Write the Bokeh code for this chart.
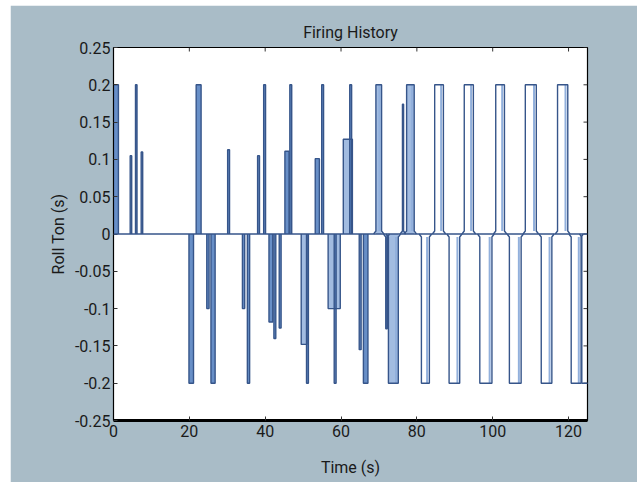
import math
from bokeh.plotting import figure
from bokeh.models import Range1d, LinearAxis, FixedTicker, Span
from bokeh.embed import file_html
from bokeh.resources import INLINE

# ---- data ----
pulse_start = [0.0, 4.4, 5.8, 7.3, 19.9, 21.8, 24.6, 25.7, 30.1, 34.0, 35.3, 38.0, 39.6,
               41.0, 42.3, 43.7, 45.2, 46.5, 49.5, 50.9, 53.2, 54.9, 56.6, 58.2, 60.6,
               62.3, 64.8, 65.9, 69.2, 71.8, 72.5, 76.2, 77.3, 81.2, 84.7, 88.5, 92.5,
               96.6, 100.8, 104.4, 108.6, 112.8, 117.1, 120.7, 123.5]
pulse_end = [1.3, 4.8, 6.2, 7.7, 21.1, 23.1, 25.2, 26.8, 30.6, 34.6, 35.9, 38.5, 40.1,
             42.0, 42.8, 44.2, 46.3, 47.0, 51.0, 51.4, 54.3, 55.4, 59.8, 58.7, 63.0,
             62.8, 65.3, 67.1, 70.7, 72.2, 75.1, 76.5, 79.3, 83.3, 87.0, 91.3, 94.9,
             99.8, 103.1, 107.5, 111.5, 115.6, 119.8, 123.3, 126.0]
pulse_amp = [0.2, 0.105, 0.2, 0.11, -0.2, 0.2, -0.1, -0.2, 0.113, -0.1, -0.2, 0.105, 0.2,
             -0.118, -0.14, -0.126, 0.111, 0.2, -0.148, -0.2, 0.101, 0.2, -0.1, -0.2, 0.127,
             0.2, -0.155, -0.2, 0.2, -0.127, -0.2, 0.174, 0.2, -0.2, 0.2, -0.2, 0.2,
             -0.2, 0.2, -0.2, 0.2, -0.2, 0.2, -0.2, -0.2]

x_ticks = [0, 20, 40, 60, 80, 100, 120]
y_ticks = [-0.25, -0.2, -0.15, -0.1, -0.05, 0, 0.05, 0.1, 0.15, 0.2, 0.25]
y_tick_labels = ["-0.25", "-0.2", "-0.15", "-0.1", "-0.05", "0", "0.05", "0.1", "0.15", "0.2", "0.25"]

title_text = "Firing History"
x_label = "Time (s)"
y_label = "Roll Ton (s)"

# ---- styling ----
FONT = "Roboto"
BG = "#a9bcc7"
DARK = "#36558a"
MID = "#4d7bbd"
LIGHT = "#92b0dc"
X0, X1, Y0, Y1 = 0, 125, -0.25, 0.25

p = figure(width=627, height=477, output_backend="svg", toolbar_location=None,
           x_range=Range1d(X0, X1), y_range=Range1d(Y0, Y1),
           x_axis_location=None, y_axis_location=None,
           min_border_left=103, min_border_right=50, min_border_top=42, min_border_bottom=62)
p.margin = (5, 0, 0, 10)
p.background_fill_color = "white"
p.border_fill_color = BG
p.outline_line_color = "black"
p.outline_line_width = 1.2
p.xgrid.visible = False
p.ygrid.visible = False

p.title.text = title_text
p.title.align = "center"
p.title.text_font = FONT
p.title.text_font_size = "16px"
p.title.text_font_style = "normal"
p.title.text_color = "#1a1a1a"
p.title.standoff = 11

def style_axis(ax):
    ax.major_tick_in = 4
    ax.major_tick_out = 0
    ax.minor_tick_line_color = None
    ax.major_tick_line_color = "#333333"
    ax.axis_line_color = "black"
    ax.major_label_text_font = FONT
    ax.major_label_text_font_size = "16px"
    ax.major_label_text_color = "#1a1a1a"
    ax.axis_label_text_font = FONT
    ax.axis_label_text_font_size = "16px"
    ax.axis_label_text_font_style = "normal"
    ax.axis_label_text_color = "#1a1a1a"

xb = LinearAxis(ticker=FixedTicker(ticks=x_ticks), axis_label=x_label)
style_axis(xb)
xb.axis_line_width = 3
xb.major_label_standoff = 4
xb.axis_label_standoff = 18
p.add_layout(xb, "below")

yl = LinearAxis(ticker=FixedTicker(ticks=y_ticks), axis_label=y_label)
style_axis(yl)
yl.major_label_overrides = {t: s for t, s in zip(y_ticks, y_tick_labels)}
yl.major_label_standoff = 3
yl.axis_label_standoff = 4
p.add_layout(yl, "left")

# mirrored inward ticks on top and right
p.ray(x=x_ticks, y=[Y1] * len(x_ticks), length=4, length_units="screen",
      angle=-math.pi / 2, line_color="#333333", line_width=1)
p.ray(x=[X1] * len(y_ticks), y=y_ticks, length=4, length_units="screen",
      angle=math.pi, line_color="#333333", line_width=1)

# ---- pulses ----
fill_l, fill_r, fill_b, fill_t, fill_c = [], [], [], [], []
out_xs, out_ys = [], []
inner_x, inner_y0, inner_y1 = [], [], []
for t0, t1, a in zip(pulse_start, pulse_end, pulse_amp):
    wide = t0 >= 68
    s = 1 if a > 0 else -1
    if not wide:
        fill_l.append(t0); fill_r.append(t1)
        fill_b.append(min(0, a)); fill_t.append(max(0, a))
        fill_c.append(MID if (t1 - t0) < 1.5 else LIGHT)
        out_xs.append([t0, t0, t1, t1]); out_ys.append([0, a, a, 0])
    else:
        if t0 < 80:
            fill_l.append(t0); fill_r.append(t1)
            fill_b.append(min(0, a)); fill_t.append(max(0, a))
            fill_c.append(LIGHT if (t1 - t0) > 1.0 else MID)
        d, e = 0.6, 0.004 * s
        out_xs.append([t0 - d, t0, t0, t1, t1, t1 + d])
        out_ys.append([0, e, a, a, e, 0])
        if t1 - t0 > 1.0:
            inner_x.append(t1 - 0.6); inner_y0.append(e); inner_y1.append(a)

p.add_layout(Span(location=0, dimension="width", line_color=DARK, line_width=1.5))
p.quad(left=fill_l, right=fill_r, bottom=fill_b, top=fill_t, fill_color=fill_c,
       fill_alpha=0.85, line_color=None)
p.segment(x0=inner_x, x1=inner_x, y0=inner_y0, y1=inner_y1, line_color=LIGHT, line_width=2)
p.multi_line(xs=out_xs, ys=out_ys, line_color=DARK, line_width=1.4)

open("out.html", "w").write(file_html(p, INLINE))
